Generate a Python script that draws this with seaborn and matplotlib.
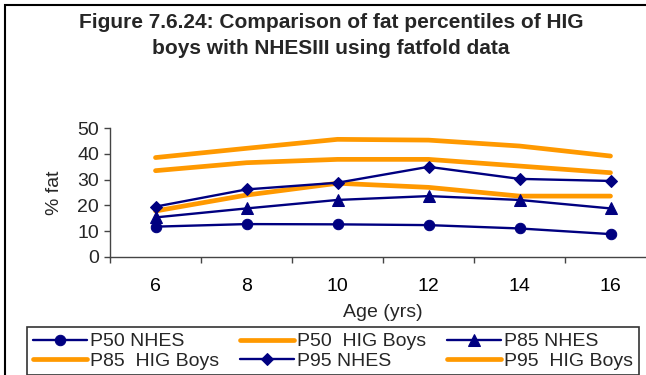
import matplotlib
matplotlib.use("Agg")
import matplotlib.pyplot as plt
import seaborn as sns
import pandas as pd
from matplotlib.patches import Rectangle

ages = [6, 8, 10, 12, 14, 16]
p50_nhes = [11.7, 12.7, 12.6, 12.3, 11.0, 8.8]
p50_hig = [17.8, 24.0, 28.6, 27.0, 23.6, 23.6]
p85_nhes = [15.3, 18.8, 22.1, 23.6, 22.1, 18.8]
p85_hig = [33.5, 36.6, 37.9, 37.9, 35.3, 32.7]
p95_nhes = [19.5, 26.2, 28.8, 35.0, 30.3, 29.5]
p95_hig = [38.6, 42.2, 45.7, 45.4, 43.1, 39.2]

series_names = ["P50 NHES", "P50  HIG Boys", "P85 NHES",
                "P85  HIG Boys", "P95 NHES", "P95  HIG Boys"]
series_vals = [p50_nhes, p50_hig, p85_nhes, p85_hig, p95_nhes, p95_hig]

sns.set_theme(style="white")
plt.rcParams['font.family'] = ['Liberation Sans', 'DejaVu Sans']

W, H = 646, 375
FS = 14
fig = plt.figure(figsize=(W / 100, H / 100), dpi=100)
ax = fig.add_axes([110 / W, 1 - 256.7 / H, (656 - 110) / W, 128.4 / H])

navy = "#000080"
orange = "#FF9900"
markers = {"P50 NHES": ("o", 7.5), "P85 NHES": ("^", 8.5), "P95 NHES": ("D", 6.5)}

handles = {}
for name, vals in zip(series_names, series_vals):
    df = pd.DataFrame({"age": ages, "val": vals})
    if "NHES" in name:
        m, ms = markers[name]
        sns.lineplot(data=df, x="age", y="val", ax=ax, color=navy, lw=1.7,
                     marker=m, markersize=ms, markeredgecolor=navy,
                     label=name, legend=False)
    else:
        sns.lineplot(data=df, x="age", y="val", ax=ax, color=orange, lw=3.4,
                     label=name, legend=False)
    handles[name] = ax.get_lines()[-1]

ax.set_xlim(5, 17)
ax.set_ylim(0, 50)
ax.set_xticks(ages)
ax.set_xticklabels([str(a) for a in ages])
ax.set_xticks([5, 7, 9, 11, 13, 15, 17], minor=True)
ax.tick_params(axis='x', which='major', length=0, pad=15, labelsize=FS, colors='black')
ax.tick_params(axis='x', which='minor', length=4, width=1, color='#444444',
               direction='out', bottom=True)
ax.set_yticks([0, 10, 20, 30, 40, 50])
ax.tick_params(axis='y', length=4, width=1, color='#444444', direction='out', pad=4,
               labelsize=FS, left=True)
for s in ["top", "right"]:
    ax.spines[s].set_visible(False)
for s in ["left", "bottom"]:
    ax.spines[s].set_color("#444444")
    ax.spines[s].set_linewidth(1)
ax.set_xlabel("Age (yrs)", fontsize=FS, labelpad=7)
ax.set_ylabel("% fat", fontsize=FS, labelpad=10)
ax.patch.set_alpha(0)

fig.text(331 / W, 1 - 22 / H, "Figure 7.6.24: Comparison of fat percentiles of HIG",
         ha="center", va="center", fontsize=15, fontweight="bold")
fig.text(331 / W, 1 - 48 / H, "boys with NHESIII using fatfold data",
         ha="center", va="center", fontsize=15, fontweight="bold")

order = ["P50 NHES", "P85  HIG Boys", "P50  HIG Boys", "P95 NHES",
         "P85 NHES", "P95  HIG Boys"]
leg = fig.legend([handles[n] for n in order], order, ncol=3,
                 loc="upper left", bbox_to_anchor=(27 / W, 1 - 327 / H, (639 - 27) / W, 0),
                 mode="expand", frameon=True, fancybox=False, fontsize=FS,
                 handlelength=2.8, handletextpad=0.15, columnspacing=0.3,
                 labelspacing=0.08, borderpad=0.3, borderaxespad=0)
leg.get_frame().set_edgecolor("black")
leg.get_frame().set_linewidth(1.2)

fig.patches.append(Rectangle((5 / W, -0.1), 1.2, 1 - 5 / H + 0.1, transform=fig.transFigure,
                             fill=False, edgecolor="black", lw=1.5, figure=fig))

fig.savefig("out.png", dpi=100)
